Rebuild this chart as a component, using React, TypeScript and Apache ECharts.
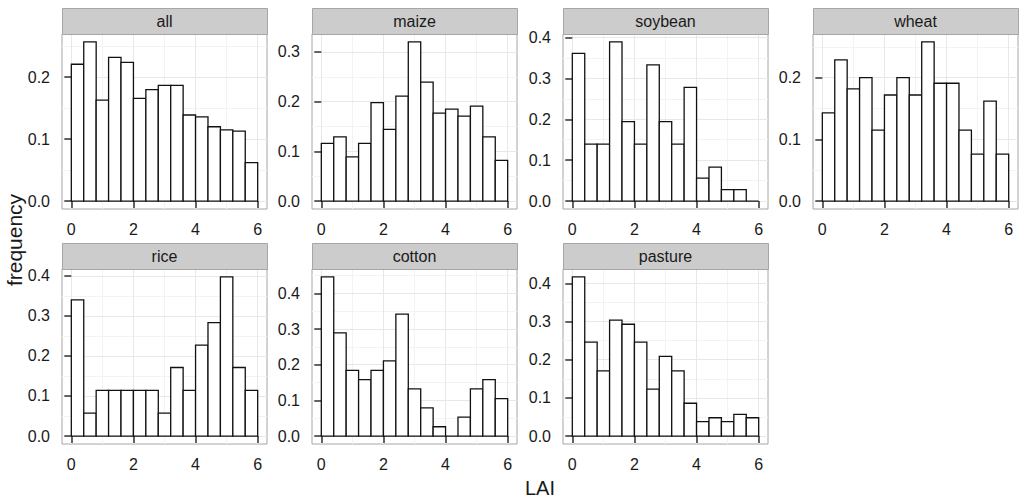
import { useEffect, useRef } from "react";
import * as echarts from "echarts";

// left edges of the 15 LAI bins (bin width 0.4)
const BIN_START = [0, 0.4, 0.8, 1.2, 1.6, 2.0, 2.4, 2.8, 3.2, 3.6, 4.0, 4.4, 4.8, 5.2, 5.6];
const BIN_WIDTH = 0.4;

const ALL = [0.221, 0.257, 0.163, 0.232, 0.224, 0.166, 0.18, 0.187, 0.187, 0.139, 0.136, 0.12, 0.115, 0.113, 0.062];
const MAIZE = [0.116, 0.129, 0.089, 0.116, 0.198, 0.144, 0.211, 0.32, 0.239, 0.177, 0.185, 0.171, 0.191, 0.129, 0.082];
const SOYBEAN = [0.361, 0.139, 0.139, 0.389, 0.194, 0.139, 0.333, 0.194, 0.139, 0.278, 0.056, 0.083, 0.028, 0.028, 0];
const WHEAT = [0.143, 0.229, 0.182, 0.2, 0.115, 0.172, 0.2, 0.172, 0.258, 0.191, 0.191, 0.115, 0.076, 0.162, 0.076];
const RICE = [0.34, 0.057, 0.114, 0.114, 0.114, 0.114, 0.114, 0.057, 0.171, 0.114, 0.227, 0.283, 0.397, 0.171, 0.114];
const COTTON = [0.446, 0.289, 0.184, 0.158, 0.184, 0.211, 0.342, 0.132, 0.079, 0.026, 0, 0.053, 0.132, 0.158, 0.105];
const PASTURE = [0.417, 0.246, 0.171, 0.304, 0.293, 0.246, 0.123, 0.209, 0.171, 0.086, 0.038, 0.048, 0.038, 0.057, 0.048];

const X_MAJOR = [0, 2, 4, 6];
const X_MINOR = [1, 3, 5];
const Y_MAJOR_3 = [0, 0.1, 0.2];
const Y_MAJOR_4 = [0, 0.1, 0.2, 0.3];
const Y_MAJOR_5 = [0, 0.1, 0.2, 0.3, 0.4];
const Y_MINOR = [0.05, 0.15, 0.25, 0.35, 0.45];

const PANELS = [
    { name: "all", values: ALL, yTicks: Y_MAJOR_3 },
    { name: "maize", values: MAIZE, yTicks: Y_MAJOR_4 },
    { name: "soybean", values: SOYBEAN, yTicks: Y_MAJOR_5 },
    { name: "wheat", values: WHEAT, yTicks: Y_MAJOR_3 },
    { name: "rice", values: RICE, yTicks: Y_MAJOR_5 },
    { name: "cotton", values: COTTON, yTicks: Y_MAJOR_5 },
    { name: "pasture", values: PASTURE, yTicks: Y_MAJOR_5 },
];

const FONT = "Liberation Sans";
const COL_LEFT = [62, 312, 563, 813];
const ROW_TOP = [34, 269];
const PANEL_W = 205;
const PANEL_H = 175;
const STRIP_H = 26;

export default function App() {
    const ref = useRef<HTMLDivElement | null>(null);

    useEffect(() => {
        if (!ref.current) return;
        const chart = echarts.init(ref.current, undefined, { renderer: "svg" });

        const grid: any[] = [];
        const xAxis: any[] = [];
        const yAxis: any[] = [];
        const series: any[] = [];
        const graphic: any[] = [];

        PANELS.forEach((p, i) => {
            const left = COL_LEFT[i % 4];
            const top = ROW_TOP[Math.floor(i / 4)];
            const ymax = Math.max(...p.values);
            const ymin = -0.05 * ymax;
            const ytop = 1.05 * ymax;

            grid.push({
                left,
                top,
                width: PANEL_W,
                height: PANEL_H,
                show: true,
                backgroundColor: "#ffffff",
                borderColor: "#a6a6a6",
                borderWidth: 1,
            });

            // major x axis
            xAxis.push({
                type: "value",
                gridIndex: i,
                min: -0.3,
                max: 6.3,
                axisLine: { show: false },
                axisTick: { show: true, length: 7, customValues: X_MAJOR, lineStyle: { color: "#333", width: 1.5 } },
                axisLabel: { customValues: X_MAJOR, margin: 12, color: "#1a1a1a", fontSize: 16, fontFamily: FONT },
                splitLine: { show: true, lineStyle: { color: "#e8e8e8", width: 1 } },
                z: 1,
            });
            // minor x grid lines
            xAxis.push({
                type: "value",
                gridIndex: i,
                min: -0.3,
                max: 6.3,
                axisLine: { show: false },
                axisTick: { show: false, customValues: X_MINOR },
                axisLabel: { show: false, customValues: X_MINOR },
                splitLine: { show: true, lineStyle: { color: "#f3f3f3", width: 1 } },
                z: 0,
            });
            yAxis.push({
                type: "value",
                gridIndex: i,
                min: ymin,
                max: ytop,
                axisLine: { show: false },
                axisTick: { show: true, length: 7, customValues: p.yTicks, lineStyle: { color: "#333", width: 1.5 } },
                axisLabel: {
                    customValues: p.yTicks,
                    margin: 12,
                    color: "#1a1a1a",
                    fontSize: 16,
                    fontFamily: FONT,
                    formatter: (v: number) => v.toFixed(1),
                },
                splitLine: { show: true, lineStyle: { color: "#e8e8e8", width: 1 } },
                z: 1,
            });
            const minor = Y_MINOR.filter((v) => v < ytop);
            yAxis.push({
                type: "value",
                gridIndex: i,
                min: ymin,
                max: ytop,
                axisLine: { show: false },
                axisTick: { show: false, customValues: minor },
                axisLabel: { show: false, customValues: minor },
                splitLine: { show: true, lineStyle: { color: "#f3f3f3", width: 1 } },
                z: 0,
            });

            series.push({
                type: "custom",
                xAxisIndex: i * 2,
                yAxisIndex: i * 2,
                data: BIN_START.map((b, k) => [b, p.values[k]]),
                encode: { x: 0, y: 1 },
                renderItem: (_params: any, api: any) => {
                    const x0 = api.value(0);
                    const h = api.value(1);
                    const a = api.coord([x0, h]);
                    const b = api.coord([x0 + BIN_WIDTH, 0]);
                    return {
                        type: "rect",
                        shape: { x: a[0], y: a[1], width: b[0] - a[0], height: b[1] - a[1] },
                        style: { fill: "#ffffff", stroke: "#111111", lineWidth: 1.3 },
                    };
                },
                z: 5,
            });

            // facet strip
            graphic.push({
                type: "rect",
                left,
                top: top - STRIP_H,
                shape: { width: PANEL_W, height: STRIP_H },
                style: { fill: "#cccccc", stroke: "#a6a6a6", lineWidth: 1 },
                z: 10,
            });
            graphic.push({
                type: "text",
                x: left + PANEL_W / 2,
                y: top - STRIP_H / 2,
                style: {
                    text: p.name,
                    fill: "#1a1a1a",
                    font: `16px "${FONT}"`,
                    textAlign: "center",
                    textVerticalAlign: "middle",
                },
                z: 11,
            });
        });

        graphic.push({
            type: "text",
            x: 14,
            y: 240,
            rotation: Math.PI / 2,
            style: {
                text: "frequency",
                fill: "#1a1a1a",
                font: `21px "${FONT}"`,
                textAlign: "center",
                textVerticalAlign: "middle",
            },
        });
        graphic.push({
            type: "text",
            x: 540,
            y: 488,
            style: {
                text: "LAI",
                fill: "#1a1a1a",
                font: `20px "${FONT}"`,
                textAlign: "center",
                textVerticalAlign: "middle",
            },
        });

        chart.setOption({
            animation: false,
            backgroundColor: "#ffffff",
            grid,
            xAxis,
            yAxis,
            series,
            graphic,
        });

        return () => chart.dispose();
    }, []);

    return <div ref={ref} style={{ position: "fixed", left: 0, top: 0, width: 1024, height: 502 }} />;
}
